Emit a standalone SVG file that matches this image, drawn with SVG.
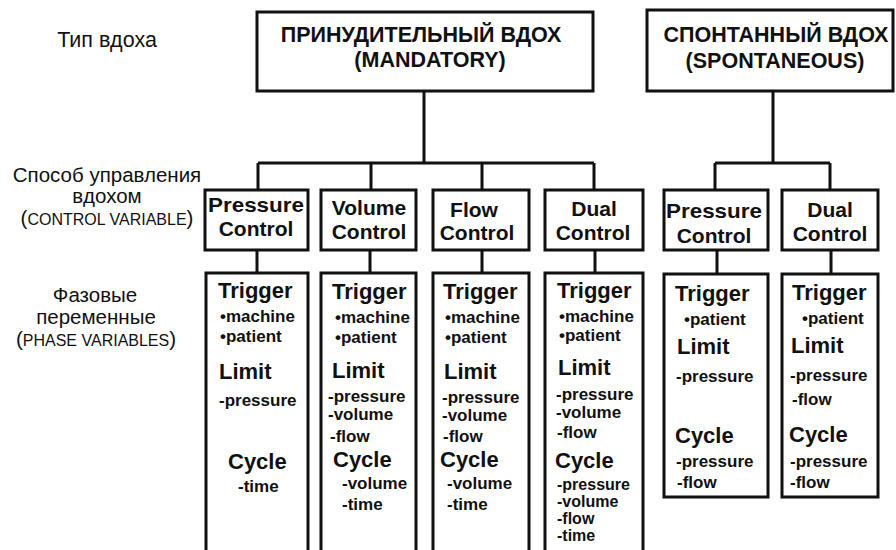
<svg xmlns="http://www.w3.org/2000/svg" width="896" height="550" viewBox="0 0 896 550">
<style>
.box{fill:#fff;stroke:#111;stroke-width:3}
.ln{fill:none;stroke:#111;stroke-width:3}
text{font-family:"Liberation Sans",Arial,sans-serif;fill:#111}
.lbl{font-size:20.5px}
.big{font-size:21.5px}
.sm{font-size:16px}
.ttl{font-size:21.5px;font-weight:bold}
.ctl{font-size:21px;font-weight:bold;text-anchor:middle}
.h{font-size:22px;font-weight:bold}
.i{font-size:17px;font-weight:bold}
.t{font-size:16px;font-weight:bold}
.c{text-anchor:middle}
</style>
<rect width="896" height="550" fill="#fff"/>
<g id="labels">
<text class="big c" x="107" y="47">Тип вдоха</text>
<text class="lbl c" x="107" y="182">Способ управления</text>
<text class="lbl c" x="107" y="203">вдохом</text>
<text class="lbl c" x="107" y="225">(<tspan class="sm">CONTROL VARIABLE</tspan>)</text>
<text class="lbl c" x="95" y="302">Фазовые</text>
<text class="lbl c" x="96" y="324">переменные</text>
<text class="lbl c" x="96" y="346">(<tspan class="sm">PHASE VARIABLES</tspan>)</text>
</g>
<g id="connectors">
<path class="ln" d="M424 91V163M258 163H594M258 163V190M371 163V190M482 163V190M594 163V190"/>
<path class="ln" d="M773 91V163M715 163H830M715 163V190M830 163V190"/>
<path class="ln" d="M257 250V273M370 250V273M482 250V273M595 250V273M717 250V273M831 250V273"/>
</g>
<g id="mandatory">
<rect class="box" x="257" y="12" width="336" height="79"/>
<text class="ttl c" x="421" y="42">ПРИНУДИТЕЛЬНЫЙ ВДОХ</text>
<text class="ttl c" x="430" y="67">(MANDATORY)</text>
</g>
<g id="spontaneous">
<rect class="box" x="647" y="10" width="246" height="81"/>
<text class="ttl c" x="776" y="42">СПОНТАННЫЙ ВДОХ</text>
<text class="ttl c" x="775" y="68">(SPONTANEOUS)</text>
</g>
<g id="m-pressure-control">
<rect class="box" x="205" y="190" width="103" height="60"/>
<text class="ctl" x="256" y="212" textLength="96" lengthAdjust="spacingAndGlyphs">Pressure</text>
<text class="ctl" x="256" y="236">Control</text>
</g>
<g id="m-volume-control">
<rect class="box" x="321" y="190" width="95" height="60"/>
<text class="ctl" x="369" y="215">Volume</text>
<text class="ctl" x="369" y="239">Control</text>
</g>
<g id="m-flow-control">
<rect class="box" x="433" y="190" width="96" height="60"/>
<text class="ctl" x="474" y="217">Flow</text>
<text class="ctl" x="477" y="240">Control</text>
</g>
<g id="m-dual-control">
<rect class="box" x="545" y="190" width="98" height="60"/>
<text class="ctl" x="594" y="216">Dual</text>
<text class="ctl" x="593" y="240">Control</text>
</g>
<g id="s-pressure-control">
<rect class="box" x="664" y="190" width="104" height="60"/>
<text class="ctl" x="714" y="218" textLength="96" lengthAdjust="spacingAndGlyphs">Pressure</text>
<text class="ctl" x="714" y="243">Control</text>
</g>
<g id="s-dual-control">
<rect class="box" x="782" y="190" width="96" height="60"/>
<text class="ctl" x="830" y="217">Dual</text>
<text class="ctl" x="830" y="241">Control</text>
</g>
<g id="m-pressure-phase">
<rect class="box" x="206" y="273" width="102" height="290"/>
<text class="h" x="218" y="298">Trigger</text>
<text class="i" x="220" y="322">•machine</text>
<text class="i" x="220" y="342">•patient</text>
<text class="h" x="219" y="379">Limit</text>
<text class="i" x="219" y="406">-pressure</text>
<text class="h" x="228" y="469">Cycle</text>
<text class="i" x="238" y="492">-time</text>
</g>
<g id="m-volume-phase">
<rect class="box" x="321" y="273" width="95" height="290"/>
<text class="h" x="332" y="299">Trigger</text>
<text class="i" x="335" y="323">•machine</text>
<text class="i" x="335" y="343">•patient</text>
<text class="h" x="332" y="378">Limit</text>
<text class="i" x="328" y="402">-pressure</text>
<text class="i" x="328" y="420">-volume</text>
<text class="i" x="330" y="442">-flow</text>
<text class="h" x="333" y="467">Cycle</text>
<text class="i" x="342" y="489">-volume</text>
<text class="i" x="342" y="510">-time</text>
</g>
<g id="m-flow-phase">
<rect class="box" x="433" y="273" width="96" height="290"/>
<text class="h" x="443" y="299">Trigger</text>
<text class="i" x="445" y="323">•machine</text>
<text class="i" x="445" y="343">•patient</text>
<text class="h" x="444" y="379">Limit</text>
<text class="i" x="442" y="403">-pressure</text>
<text class="i" x="442" y="421">-volume</text>
<text class="i" x="443" y="442">-flow</text>
<text class="h" x="440" y="467">Cycle</text>
<text class="i" x="447" y="489">-volume</text>
<text class="i" x="447" y="510">-time</text>
</g>
<g id="m-dual-phase">
<rect class="box" x="545" y="273" width="98" height="290"/>
<text class="h" x="557" y="298">Trigger</text>
<text class="i" x="559" y="322">•machine</text>
<text class="i" x="559" y="341">•patient</text>
<text class="h" x="558" y="375">Limit</text>
<text class="i" x="556" y="400">-pressure</text>
<text class="i" x="556" y="418">-volume</text>
<text class="i" x="557" y="438">-flow</text>
<text class="h" x="555" y="468">Cycle</text>
<text class="t" x="557" y="490">-pressure</text>
<text class="t" x="557" y="507">-volume</text>
<text class="t" x="557" y="524">-flow</text>
<text class="t" x="557" y="541">-time</text>
</g>
<g id="s-pressure-phase">
<rect class="box" x="664" y="274" width="104" height="223"/>
<text class="h" x="675" y="301">Trigger</text>
<text class="i" x="684" y="325">•patient</text>
<text class="h" x="677" y="354">Limit</text>
<text class="i" x="676" y="382">-pressure</text>
<text class="h" x="675" y="443">Cycle</text>
<text class="i" x="676" y="467">-pressure</text>
<text class="i" x="677" y="488">-flow</text>
</g>
<g id="s-dual-phase">
<rect class="box" x="782" y="274" width="96" height="223"/>
<text class="h" x="792" y="300">Trigger</text>
<text class="i" x="802" y="324">•patient</text>
<text class="h" x="791" y="353">Limit</text>
<text class="i" x="790" y="381">-pressure</text>
<text class="i" x="792" y="405">-flow</text>
<text class="h" x="789" y="442">Cycle</text>
<text class="i" x="790" y="467">-pressure</text>
<text class="i" x="790" y="488">-flow</text>
</g>
</svg>
